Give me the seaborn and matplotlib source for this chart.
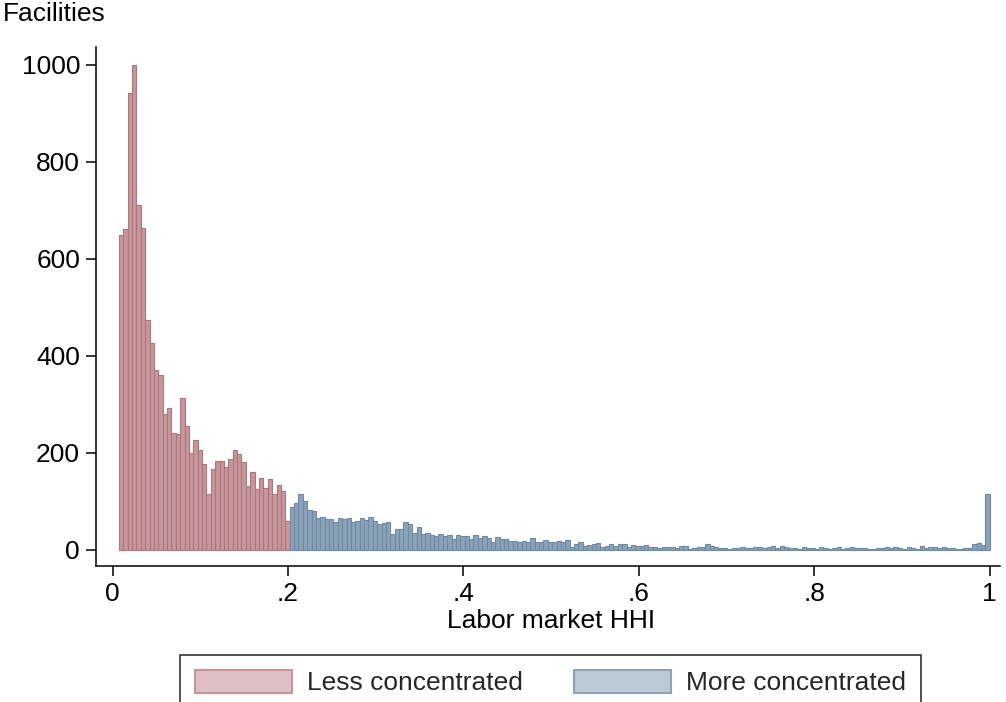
import numpy as np
import pandas as pd
import matplotlib
matplotlib.use("Agg")
import matplotlib.pyplot as plt
from matplotlib.patches import Patch
import seaborn as sns

# Facility counts per HHI bin (bin width ~0.005)
less_counts = [649, 661, 941, 1000, 711, 663, 473, 426, 371, 361,
               280, 293, 241, 239, 313, 255, 199, 227, 206, 177,
               114, 166, 183, 183, 171, 188, 205, 197, 181, 131,
               160, 125, 147, 127, 145, 115, 133, 121, 59]
more_counts = [88, 96, 115, 100, 81, 79, 65, 67, 63, 63,
               57, 65, 63, 65, 57, 59, 65, 61, 67, 59,
               53, 55, 57, 32, 43, 43,
               57, 53, 34, 47, 32, 34, 30, 28, 32, 28,
               30, 22, 30, 28, 28, 22, 30, 24, 28, 24,
               16, 26, 22, 22, 18, 18, 16, 18, 16, 24, 16,
               16, 20, 16, 16, 18, 16, 20, 6, 12, 16,
               8, 10, 12, 14, 6, 8, 12, 8, 12, 12,
               6, 10, 8, 8, 10, 6, 6, 4, 6, 6, 6, 4,
               8, 8, 2, 4, 6, 6, 12, 8, 6, 4,
               4, 2, 4, 4, 6, 4, 4, 6, 6, 4,
               6, 8, 4, 8, 6, 4, 4, 2, 6,
               4, 4, 2, 6, 4, 2, 4, 6, 2, 4,
               6, 4, 4, 4, 2, 2, 4, 4, 6, 4,
               6, 4, 2, 6, 4, 2, 8, 4, 6, 6,
               4, 6, 4, 4, 2, 2, 4, 4, 12, 14, 10, 115]
group_labels = ["Less concentrated", "More concentrated"]
x_ticks = [0, 0.2, 0.4, 0.6, 0.8, 1.0]
x_tick_labels = ["0", ".2", ".4", ".6", ".8", "1"]
y_ticks = [0, 200, 400, 600, 800, 1000]

# Histogram bin layout
bin_start = 0.0072
n_bins = len(less_counts) + len(more_counts)
bin_width = (1.0 - bin_start) / n_bins
edges = bin_start + bin_width * np.arange(n_bins + 1)
centers = (edges[:-1] + edges[1:]) / 2

n_less = len(less_counts)
df_less = pd.DataFrame({"hhi": centers[:n_less], "count": less_counts})
df_more = pd.DataFrame({"hhi": centers[n_less:], "count": more_counts})

sns.set_theme(style="white")
plt.rcParams["font.family"] = ["Liberation Sans", "DejaVu Sans"]

fig = plt.figure(figsize=(10.06, 7.02), dpi=100)
ax = fig.add_axes([96 / 1006, 1 - 566 / 702, (1000 - 96) / 1006, (566 - 47) / 702])

red_fill, red_edge = "#C4979B", "#B3737B"
blue_fill, blue_edge = "#8BA2B7", "#6E8BA5"

sns.histplot(data=df_less, x="hhi", weights="count", bins=edges[:n_less + 1].tolist(),
             color=red_fill, edgecolor=red_edge, linewidth=0.8, alpha=1, ax=ax)
sns.histplot(data=df_more, x="hhi", weights="count", bins=edges[n_less:].tolist(),
             color=blue_fill, edgecolor=blue_edge, linewidth=0.8, alpha=1, ax=ax)

ax.set_xlim(-0.019, 1.0117)
ax.set_ylim(-33.6, 1036.5)
ax.set_xticks(x_ticks)
ax.set_xticklabels(x_tick_labels)
ax.set_yticks(y_ticks)
ax.set_yticklabels([str(v) for v in y_ticks])
ax.set_xlabel("")
ax.set_ylabel("")
ax.tick_params(axis="both", which="major", direction="out", length=7.5,
               width=1.1, color="black", labelsize=19, labelcolor="black",
               bottom=True, left=True, pad=4)

for side in ["top", "right"]:
    ax.spines[side].set_visible(False)
for side in ["left", "bottom"]:
    ax.spines[side].set_color("black")
    ax.spines[side].set_linewidth(1.1)

fig.text(3 / 1006, 1 - 2 / 702, "Facilities", ha="left", va="top",
         fontsize=19, color="black")
fig.text(551 / 1006, 1 - 621 / 702, "Labor market HHI", ha="center",
         va="center", fontsize=19, color="black")

handles = [
    Patch(facecolor="#DFC1C5", edgecolor="#C9939A", linewidth=1.5, label=group_labels[0]),
    Patch(facecolor="#BCCAD6", edgecolor="#8CA3B8", linewidth=1.5, label=group_labels[1]),
]
leg = fig.legend(handles=handles, ncol=2, loc="upper left",
                 bbox_to_anchor=(180 / 1006, 1 - 655 / 702),
                 fontsize=19, frameon=True, fancybox=False,
                 handlelength=3.7, handleheight=1.0, handletextpad=0.57,
                 columnspacing=1.92, borderpad=0.55, borderaxespad=0)
leg.get_frame().set_edgecolor("black")
leg.get_frame().set_linewidth(1.2)

fig.savefig("out.png", dpi=100, facecolor="white")
